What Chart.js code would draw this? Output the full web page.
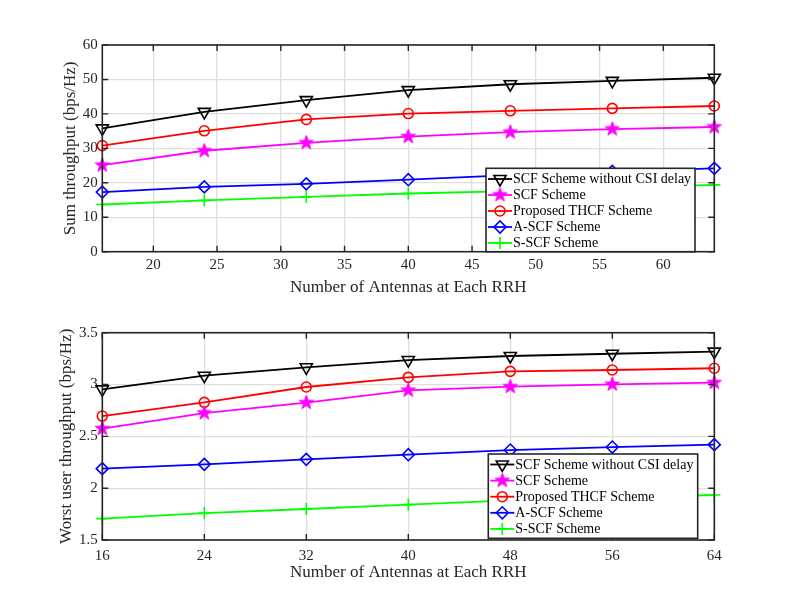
<!DOCTYPE html>
<html>
<head>
<meta charset="utf-8">
<script src="https://cdn.jsdelivr.net/npm/chart.js@4.4.0/dist/chart.umd.min.js"></script>
<style>
  body { margin: 0; background: #fff; }
  canvas { display: block; }
</style>
</head>
<body>
<canvas id="sumChart" width="789" height="303"></canvas>
<canvas id="worstChart" width="789" height="303"></canvas>
<script>
const antennas = [16, 24, 32, 40, 48, 56, 64];
const seriesNames = ['SCF Scheme without CSI delay', 'SCF Scheme', 'Proposed THCF Scheme', 'A-SCF Scheme', 'S-SCF Scheme'];

// upper plot, sum throughput (bps/Hz)
const sumNoDelay = [35.8, 40.6, 44.0, 46.9, 48.6, 49.6, 50.5];
const sumSCF     = [25.1, 29.3, 31.6, 33.4, 34.7, 35.6, 36.2];
const sumTHCF    = [30.8, 35.1, 38.4, 40.1, 40.9, 41.6, 42.3];
const sumASCF    = [17.3, 18.8, 19.7, 20.9, 22.2, 23.3, 24.2];
const sumSSCF    = [13.7, 14.9, 15.9, 16.9, 17.6, 18.6, 19.4];

// lower plot, worst user throughput (bps/Hz)
const worstNoDelay = [2.953, 3.085, 3.166, 3.236, 3.275, 3.297, 3.317];
const worstSCF     = [2.574, 2.725, 2.825, 2.944, 2.979, 3.002, 3.018];
const worstTHCF    = [2.696, 2.828, 2.976, 3.069, 3.127, 3.140, 3.157];
const worstASCF    = [2.188, 2.230, 2.278, 2.323, 2.368, 2.397, 2.420];
const worstSSCF    = [1.706, 1.760, 1.799, 1.841, 1.883, 1.910, 1.934];

const topXTicks = [20, 25, 30, 35, 40, 45, 50, 55, 60];
const topYTicks = [0, 10, 20, 30, 40, 50, 60];
const bottomXTicks = [16, 24, 32, 40, 48, 56, 64];
const bottomYTicks = [1.5, 2, 2.5, 3, 3.5];

const FONT = '"Liberation Serif", "Times New Roman", serif';
const TXT = '#262626';

// filled pentagram for the SCF markers
function makeStar(color, r) {
  const c = document.createElement('canvas');
  const s = Math.ceil(r * 2 + 4);
  c.width = s; c.height = s;
  const g = c.getContext('2d');
  g.beginPath();
  for (let i = 0; i < 10; i++) {
    const rr = i % 2 === 0 ? r : r * 0.4;
    const a = -Math.PI / 2 + i * Math.PI / 5;
    const px = s / 2 + rr * Math.cos(a), py = s / 2 + rr * Math.sin(a);
    if (i === 0) g.moveTo(px, py); else g.lineTo(px, py);
  }
  g.closePath();
  g.fillStyle = color; g.strokeStyle = color; g.lineWidth = 1;
  g.fill(); g.stroke();
  return c;
}
const starImg = makeStar('#ff00ff', 7.5);

function pts(vals) {
  return antennas.map((a, i) => ({ x: a, y: vals[i] }));
}

function makeDatasets(vals) {
  const styles = [
    { color: '#000000', pointStyle: 'triangle', rot: 180, r: 7 },
    { color: '#ff00ff', pointStyle: starImg, rot: 0, r: 7 },
    { color: '#ff0000', pointStyle: 'circle', rot: 0, r: 5 },
    { color: '#0000ff', pointStyle: 'rectRot', rot: 0, r: 6 },
    { color: '#00ff00', pointStyle: 'cross', rot: 0, r: 6 }
  ];
  return vals.map((v, i) => ({
    label: seriesNames[i],
    data: pts(v),
    borderColor: styles[i].color,
    backgroundColor: 'rgba(0,0,0,0)',
    borderWidth: 1.8,
    pointStyle: styles[i].pointStyle,
    pointRotation: styles[i].rot,
    pointRadius: styles[i].r,
    pointBorderWidth: 1.6,
    pointBorderColor: styles[i].color,
    pointBackgroundColor: 'rgba(0,0,0,0)',
    clip: false,
    tension: 0
  }));
}

// box around the axes plus inward tick marks, matlab style
const frame = {
  id: 'frame',
  afterDatasetsDraw(chart) {
    const { ctx, chartArea: a, scales: { x, y } } = chart;
    ctx.save();
    ctx.strokeStyle = TXT;
    ctx.lineWidth = 1.4;
    ctx.beginPath();
    x.ticks.forEach(t => {
      const px = x.getPixelForValue(t.value);
      ctx.moveTo(px, a.bottom); ctx.lineTo(px, a.bottom - 6);
      ctx.moveTo(px, a.top); ctx.lineTo(px, a.top + 6);
    });
    y.ticks.forEach(t => {
      const py = y.getPixelForValue(t.value);
      ctx.moveTo(a.left, py); ctx.lineTo(a.left + 6, py);
      ctx.moveTo(a.right, py); ctx.lineTo(a.right - 6, py);
    });
    ctx.stroke();
    ctx.lineWidth = 1.6;
    ctx.strokeRect(a.left, a.top, a.right - a.left, a.bottom - a.top);
    ctx.restore();
  }
};

// legend box drawn inside the plot
const boxLegend = {
  id: 'boxLegend',
  afterDraw(chart, args, opts) {
    const ctx = chart.ctx;
    ctx.save();
    ctx.fillStyle = '#ffffff';
    ctx.fillRect(opts.left, opts.top, opts.width, opts.height);
    ctx.strokeStyle = TXT;
    ctx.lineWidth = 1.6;
    ctx.strokeRect(opts.left, opts.top, opts.width, opts.height);
    ctx.font = '14px ' + FONT;
    ctx.textBaseline = 'middle';
    chart.data.datasets.forEach((ds, i) => {
      const yy = opts.top + opts.first + i * opts.step;
      ctx.strokeStyle = ds.borderColor;
      ctx.lineWidth = ds.borderWidth;
      ctx.beginPath();
      ctx.moveTo(opts.left + 2, yy);
      ctx.lineTo(opts.left + 26, yy);
      ctx.stroke();
      ctx.lineWidth = ds.pointBorderWidth;
      ctx.fillStyle = 'rgba(0,0,0,0)';
      Chart.helpers.drawPoint(ctx, {
        pointStyle: ds.pointStyle, rotation: ds.pointRotation,
        radius: ds.pointRadius, borderWidth: ds.pointBorderWidth
      }, opts.left + 14, yy);
      ctx.fillStyle = '#000000';
      ctx.fillText(ds.label, opts.left + 27, yy + 0.5);
    });
    ctx.restore();
  }
};

function axisOpts(min, max, tickList, title, fit, tickPad, titlePad) {
  return {
    type: 'linear',
    min: min,
    max: max,
    afterBuildTicks: s => { s.ticks = tickList.map(v => ({ value: v })); },
    afterFit: fit,
    ticks: {
      font: { family: FONT, size: 15 }, color: TXT, padding: tickPad,
      autoSkip: false, maxRotation: 0,
      callback: v => String(v)
    },
    grid: { color: '#dedede', lineWidth: 1.3, drawTicks: false },
    border: { display: false },
    title: { display: true, text: title, font: { family: FONT, size: 17 }, color: TXT, padding: titlePad }
  };
}

new Chart(document.getElementById('sumChart'), {
  type: 'line',
  data: { datasets: makeDatasets([sumNoDelay, sumSCF, sumTHCF, sumASCF, sumSSCF]) },
  options: {
    responsive: false,
    animation: false,
    layout: { padding: { left: 0, top: 45, right: 74.7, bottom: 0 } },
    scales: {
      x: axisOpts(16, 64, topXTicks, 'Number of Antennas at Each RRH', s => { s.height = 51.3; }, 4, { top: 0, bottom: 4.8 }),
      y: axisOpts(0, 60, topYTicks, 'Sum throughput (bps/Hz)', s => { s.width = 102.3; }, 4.5, { top: 60.5, bottom: 0 })
    },
    plugins: {
      legend: { display: false },
      tooltip: { enabled: false },
      boxLegend: { left: 486, top: 168.3, width: 209, height: 83.4, first: 10.7, step: 16 }
    }
  },
  plugins: [frame, boxLegend]
});

new Chart(document.getElementById('worstChart'), {
  type: 'line',
  data: { datasets: makeDatasets([worstNoDelay, worstSCF, worstTHCF, worstASCF, worstSSCF]) },
  options: {
    responsive: false,
    animation: false,
    layout: { padding: { left: 0, top: 29.7, right: 74.7, bottom: 0 } },
    scales: {
      x: axisOpts(16, 64, bottomXTicks, 'Number of Antennas at Each RRH', s => { s.height = 66; }, 7, { top: 0, bottom: 22.8 }),
      y: axisOpts(1.5, 3.5, bottomYTicks, 'Worst user throughput (bps/Hz)', s => { s.width = 102.3; }, 4.5, { top: 56.5, bottom: 0 })
    },
    plugins: {
      legend: { display: false },
      tooltip: { enabled: false },
      boxLegend: { left: 488.3, top: 151, width: 209.4, height: 84.3, first: 10.5, step: 16.1 }
    }
  },
  plugins: [frame, boxLegend]
});
</script>
</body>
</html>
